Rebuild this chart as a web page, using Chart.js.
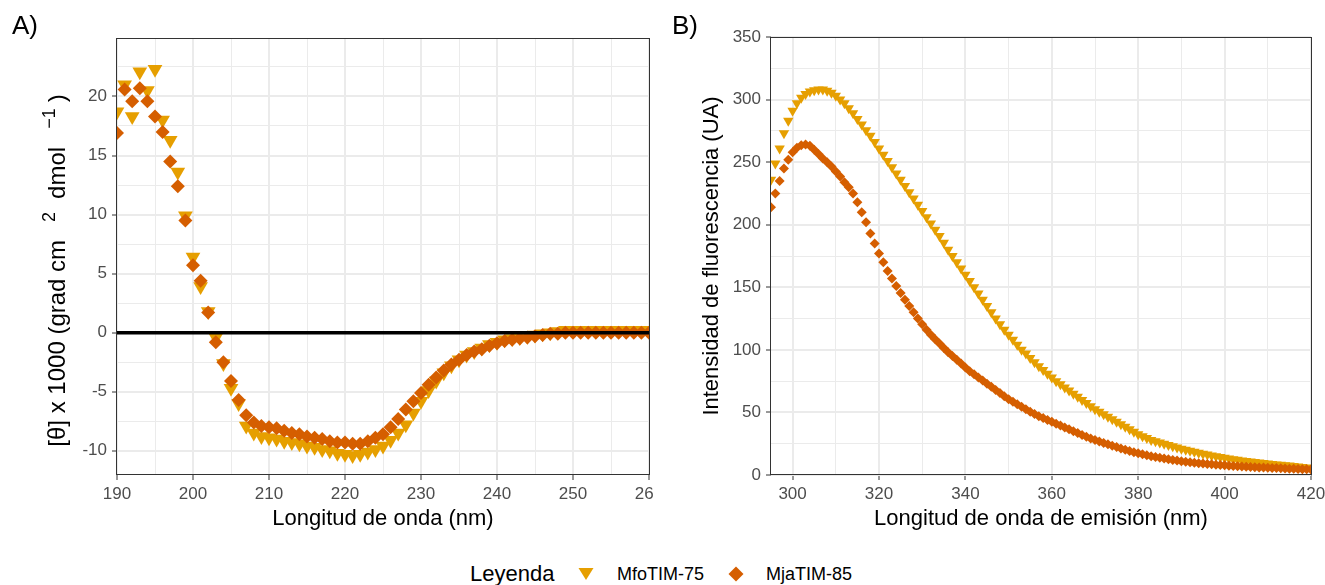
<!DOCTYPE html>
<html>
<head>
<meta charset="utf-8">
<script src="https://cdn.jsdelivr.net/npm/chart.js@4.4.1/dist/chart.umd.min.js"></script>
<style>
  html, body { margin: 0; padding: 0; background: #fff; overflow: hidden; }
  body { width: 1325px; height: 585px; position: relative; font-family: "Liberation Sans", Arial, sans-serif; }
  #leftWrap { position: absolute; left: 0; top: 0; width: 653px; height: 545px; overflow: hidden; }
  #rightWrap { position: absolute; left: 653px; top: 0; width: 700px; height: 545px; }
  .tag { position: absolute; top: 10px; font-size: 26px; color: #000; }
  #legend { position: absolute; left: 0; top: 560px; width: 1325px; height: 28px; }
  #legend span { position: absolute; top: 0; line-height: 28px; color: #000; white-space: nowrap; }
  #legend svg { position: absolute; }
</style>
</head>
<body>
<div id="leftWrap"><canvas id="cdChart" width="700" height="545"></canvas></div>
<div id="rightWrap"><canvas id="flChart" width="700" height="545"></canvas></div>
<div class="tag" style="left:12px">A)</div>
<div class="tag" style="left:672px">B)</div>
<div id="legend">
  <span style="left:470px; font-size:22px">Leyenda</span>
  <svg style="left:578px; top:7px" width="16" height="14"><polygon points="0.5,1 15.5,1 8,13" fill="#E69F00"/></svg>
  <span style="left:617px; font-size:18px">MfoTIM-75</span>
  <svg style="left:728px; top:6px" width="16" height="16"><polygon points="8,0.5 15.5,8 8,15.5 0.5,8" fill="#D55E00"/></svg>
  <span style="left:766px; font-size:18px">MjaTIM-85</span>
</div>
<script>
// Circular dichroism (panel A)
const cdWavelength = [190, 191, 192, 193, 194, 195, 196, 197, 198, 199,
  200, 201, 202, 203, 204, 205, 206, 207, 208, 209,
  210, 211, 212, 213, 214, 215, 216, 217, 218, 219,
  220, 221, 222, 223, 224, 225, 226, 227, 228, 229,
  230, 231, 232, 233, 234, 235, 236, 237, 238, 239,
  240, 241, 242, 243, 244, 245, 246, 247, 248, 249,
  250, 251, 252, 253, 254, 255, 256, 257, 258, 259, 260];
const cdMfo = [18.7, 21.0, 18.3, 22.1, 20.5, 22.3, 18.0, 16.3, 13.6, 9.9,
  6.4, 3.9, 1.8, -0.4, -2.6, -4.7, -6.0, -7.9, -8.5, -8.8,
  -8.9, -9.0, -9.2, -9.3, -9.4, -9.6, -9.7, -9.9, -10.0, -10.2,
  -10.3, -10.4, -10.3, -10.1, -9.9, -9.6, -9.1, -8.5, -7.8, -6.8,
  -5.8, -4.9, -4.1, -3.4, -2.8, -2.3, -1.9, -1.6, -1.3, -1.0,
  -0.8, -0.6, -0.5, -0.4, -0.3, -0.2, -0.1, 0.0, 0.1, 0.2,
  0.2, 0.2, 0.2, 0.2, 0.2, 0.2, 0.2, 0.2, 0.2, 0.2, 0.2];
const cdMja = [16.9, 20.6, 19.6, 20.7, 19.6, 18.3, 17.0, 14.5, 12.4, 9.5,
  5.7, 4.4, 1.7, -0.8, -2.5, -4.1, -5.7, -7.0, -7.6, -7.9,
  -8.0, -8.1, -8.3, -8.5, -8.6, -8.8, -8.9, -9.0, -9.2, -9.3,
  -9.3, -9.4, -9.4, -9.2, -8.9, -8.6, -8.0, -7.3, -6.5, -5.8,
  -5.1, -4.4, -3.8, -3.2, -2.7, -2.3, -1.9, -1.6, -1.4, -1.1,
  -0.9, -0.7, -0.6, -0.5, -0.4, -0.3, -0.2, -0.1, -0.1, 0.0,
  0.0, 0.0, 0.0, 0.0, 0.0, 0.0, 0.0, 0.0, 0.0, 0.0, 0.0];
const cdZero = 0;
const cdXMajor = [190, 200, 210, 220, 230, 240, 250, 260];
const cdXMinor = [195, 205, 215, 225, 235, 245, 255];
const cdYMajor = [-10, -5, 0, 5, 10, 15, 20];
const cdYMinor = [-7.5, -2.5, 2.5, 7.5, 12.5, 17.5, 22.5];
// y title pieces: [text, is superscript, gap before in px]
const cdYTitle = [['[θ] x 1000 (grad cm', false, 0], ['2', true, 18], ['dmol', false, 13], ['−1', true, 18], [')', false, 6]];

// Fluorescence emission (panel B)
const flWavelength = [295, 296, 297, 298, 299,
  300, 301, 302, 303, 304, 305, 306, 307, 308, 309,
  310, 311, 312, 313, 314, 315, 316, 317, 318, 319,
  320, 321, 322, 323, 324, 325, 326, 327, 328, 329,
  330, 331, 332, 333, 334, 335, 336, 337, 338, 339,
  340, 341, 342, 343, 344, 345, 346, 347, 348, 349,
  350, 351, 352, 353, 354, 355, 356, 357, 358, 359,
  360, 361, 362, 363, 364, 365, 366, 367, 368, 369,
  370, 371, 372, 373, 374, 375, 376, 377, 378, 379,
  380, 381, 382, 383, 384, 385, 386, 387, 388, 389,
  390, 391, 392, 393, 394, 395, 396, 397, 398, 399,
  400, 401, 402, 403, 404, 405, 406, 407, 408, 409,
  410, 411, 412, 413, 414, 415, 416, 417, 418, 419, 420];
const flMfo = [236, 249, 261, 273, 283,
  291, 297, 301.5, 304.5, 306.5, 307.5, 308, 308, 307, 305.5,
  303, 300, 297, 293, 289, 284.5, 280, 275.5, 271, 266,
  261, 256, 251, 246, 241, 236, 231, 226, 221, 216,
  211, 206, 201, 196, 191, 185.5, 180, 175, 170, 165,
  160, 155, 150, 145, 140, 135, 130, 125, 120.5, 116,
  112, 108, 104, 100, 97, 93.5, 90, 87, 84, 81,
  78, 75, 72.5, 70, 67.5, 65, 62.5, 60, 57.5, 55,
  52.5, 50.5, 48.5, 46.5, 44.5, 42.5, 40.5, 38.5, 36.5, 34.5,
  32.5, 31, 29.5, 28, 27, 26, 25, 24, 23, 22,
  21, 20.2, 19.4, 18.6, 17.8, 17, 16.3, 15.6, 14.9, 14.3,
  13.7, 13.1, 12.6, 12.1, 11.6, 11.1, 10.7, 10.3, 9.9, 9.5,
  9.1, 8.7, 8.4, 8.1, 7.8, 7.5, 7.1, 6.7, 6.3, 6.0, 5.6];
const flMja = [214, 225, 235, 245, 252,
  258, 261.5, 263.5, 264, 263, 260, 256.5, 253, 250, 246.5,
  242.5, 238.5, 234, 230, 225, 218, 210, 202, 193, 185,
  177, 170, 163, 157, 151, 145.5, 140, 135, 130, 125,
  120.5, 116, 112, 108.5, 105, 101.5, 98, 95, 92, 89,
  86, 83, 80.5, 78, 75.5, 73, 70.5, 68, 65.5, 63,
  60.5, 58.5, 56.5, 54.5, 52.5, 50.5, 48.8, 47, 45.5, 44,
  42.5, 41, 39.5, 38, 36.5, 35, 33.5, 32, 30.5, 29.2,
  28, 26.8, 25.6, 24.5, 23.4, 22.3, 21.2, 20.2, 19.2, 18.2,
  17.3, 16.5, 15.7, 15, 14.3, 13.7, 13.1, 12.5, 12, 11.5,
  11, 10.6, 10.2, 9.8, 9.4, 9.1, 8.8, 8.5, 8.2, 7.9,
  7.7, 7.4, 7.2, 7, 6.8, 6.6, 6.4, 6.2, 6, 5.9,
  5.8, 5.6, 5.5, 5.3, 5.2, 5.0, 4.9, 4.7, 4.6, 4.5, 4.4];
const flXMajor = [300, 320, 340, 360, 380, 400, 420];
const flXMinor = [310, 330, 350, 370, 390, 410];
const flYMajor = [0, 50, 100, 150, 200, 250, 300, 350];
const flYMinor = [25, 75, 125, 175, 225, 275, 325];

const colMfo = '#E69F00';
const colMja = '#D55E00';
const fontFamily = '"Liberation Sans", Arial, sans-serif';

function toPoints(xs, ys) {
  return xs.map((x, i) => ({ x: x, y: ys[i] }));
}

// panel border drawn on top, like theme_bw
const frame = {
  id: 'frame',
  afterDatasetsDraw(chart) {
    const a = chart.chartArea;
    const ctx = chart.ctx;
    ctx.save();
    ctx.strokeStyle = '#333333';
    ctx.lineWidth = 1;
    ctx.strokeRect(Math.round(a.left) - 0.5, Math.round(a.top) + 0.5,
      Math.round(a.right - a.left) + 1, Math.round(a.bottom - a.top) - 1);
    ctx.restore();
  }
};

// rotated y title with superscripts (plotmath style)
const mathTitle = {
  id: 'mathTitle',
  afterDraw(chart, args, opts) {
    const ctx = chart.ctx;
    const a = chart.chartArea;
    const main = opts.size, sup = Math.round(opts.size * 0.75);
    const widths = opts.parts.map(([t, s, g]) => {
      ctx.font = (s ? sup : main) + 'px ' + fontFamily;
      return ctx.measureText(t).width + g;
    });
    const total = widths.reduce((p, w) => p + w, 0);
    ctx.save();
    ctx.translate(opts.x, (a.top + a.bottom) / 2 + opts.shift);
    ctx.rotate(-Math.PI / 2);
    ctx.fillStyle = '#000000';
    ctx.textBaseline = 'alphabetic';
    let pos = -total / 2;
    opts.parts.forEach(([t, s, g], i) => {
      ctx.font = (s ? sup : main) + 'px ' + fontFamily;
      ctx.fillText(t, pos + g, s ? -main * 0.42 : 0);
      pos += widths[i];
    });
    ctx.restore();
  }
};

function axis(min, max, major, minor, title, isX, size, titlePad) {
  const isMajor = (v) => major.includes(v);
  return {
    type: 'linear',
    min: min,
    max: max,
    afterBuildTicks: (scale) => {
      scale.ticks = major.concat(minor).sort((a, b) => a - b).map(v => ({ value: v }));
    },
    afterFit: (scale) => {
      if (isX) scale.height = size; else scale.width = size;
    },
    border: { display: false },
    grid: {
      color: '#EBEBEB',
      lineWidth: (ctx) => (ctx.tick && isMajor(ctx.tick.value)) ? 2 : 1,
      tickColor: (ctx) => (ctx.tick && isMajor(ctx.tick.value)) ? '#333333' : 'rgba(0,0,0,0)',
      tickWidth: 1,
      tickLength: 5,
      drawTicks: true
    },
    ticks: {
      autoSkip: false,
      maxRotation: 0,
      padding: isX ? 4 : 5,
      color: '#4D4D4D',
      font: { family: fontFamily, size: 17 },
      callback: (value) => isMajor(value) ? String(value) : ''
    },
    title: {
      display: title !== null,
      text: title || '',
      color: '#000000',
      font: { family: fontFamily, size: 22 },
      padding: titlePad
    }
  };
}

const pointBase = { showLine: false, pointBorderWidth: 0, clip: 0 };

new Chart(document.getElementById('cdChart'), {
  type: 'scatter',
  data: {
    datasets: [
      Object.assign({}, pointBase, {
        label: 'MfoTIM-75', data: toPoints(cdWavelength, cdMfo), order: 1,
        pointStyle: 'triangle', rotation: 180, pointRadius: 8.5,
        pointBackgroundColor: colMfo, pointHoverRadius: 8.5
      }),
      Object.assign({}, pointBase, {
        label: 'MjaTIM-85', data: toPoints(cdWavelength, cdMja), order: 0,
        pointStyle: 'rectRot', pointRadius: 7,
        pointBackgroundColor: colMja, pointHoverRadius: 7
      }),
      {
        type: 'line', label: 'cero', order: -1, clip: 0,
        data: [{ x: cdWavelength[0], y: cdZero }, { x: cdWavelength[cdWavelength.length - 1], y: cdZero }],
        borderColor: '#000000', borderWidth: 3.5, pointRadius: 0
      }
    ]
  },
  options: {
    responsive: false,
    animation: false,
    layout: { padding: { left: 0, top: 38, right: 51, bottom: 0 } },
    plugins: {
      legend: { display: false },
      tooltip: { enabled: false },
      mathTitle: { parts: cdYTitle, size: 24, x: 65, shift: 14 }
    },
    scales: {
      x: axis(190, 260, cdXMajor, cdXMinor, 'Longitud de onda (nm)', true, 70, { top: 0, bottom: 13 }),
      y: axis(-12.05, 24.95, cdYMajor, cdYMinor, null, false, 117, { top: 44, bottom: 0 })
    }
  },
  plugins: [frame, mathTitle]
});

new Chart(document.getElementById('flChart'), {
  type: 'scatter',
  data: {
    datasets: [
      Object.assign({}, pointBase, {
        label: 'MfoTIM-75', data: toPoints(flWavelength, flMfo), order: 1,
        pointStyle: 'triangle', rotation: 180, pointRadius: 6,
        pointBackgroundColor: colMfo, pointHoverRadius: 6
      }),
      Object.assign({}, pointBase, {
        label: 'MjaTIM-85', data: toPoints(flWavelength, flMja), order: 0,
        pointStyle: 'rectRot', pointRadius: 5,
        pointBackgroundColor: colMja, pointHoverRadius: 5
      })
    ]
  },
  options: {
    responsive: false,
    animation: false,
    layout: { padding: { left: 0, top: 37, right: 42, bottom: 0 } },
    plugins: { legend: { display: false }, tooltip: { enabled: false } },
    scales: {
      x: axis(295, 420, flXMajor, flXMinor, 'Longitud de onda de emisión (nm)', true, 70, { top: 0, bottom: 13 }),
      y: axis(0, 350, flYMajor, flYMinor, 'Intensidad de fluorescencia (UA)', false, 118, { top: 46, bottom: 0 })
    }
  },
  plugins: [frame]
});
</script>
</body>
</html>
